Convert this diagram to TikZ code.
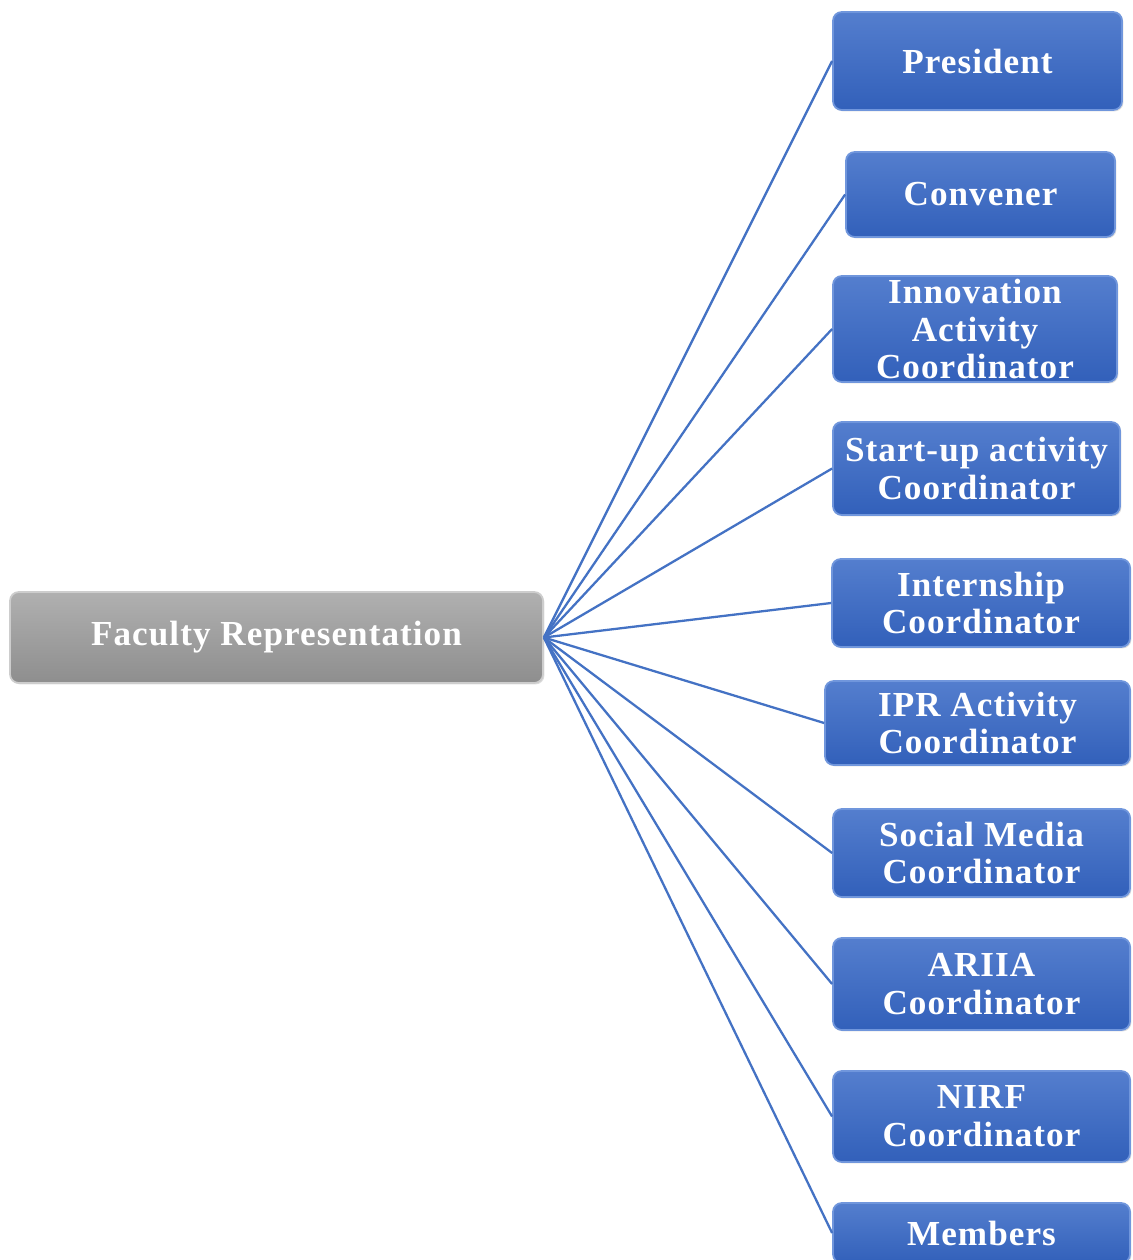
\documentclass[tikz,border=0pt]{standalone}
\usepackage{fontspec}
\setmainfont{Liberation Serif}
\newfontfamily\boxfont{Liberation Serif}[LetterSpace=3]
\usetikzlibrary{shadows}
\definecolor{linkblue}{RGB}{68,114,196}
\definecolor{btop}{RGB}{84,126,206}
\definecolor{bbot}{RGB}{50,96,186}
\definecolor{bedge}{RGB}{112,150,220}
\definecolor{gtop}{RGB}{176,176,176}
\definecolor{gbot}{RGB}{142,142,142}
\definecolor{gedge}{RGB}{205,205,205}
\tikzset{
  basebox/.style 2 args={rectangle, rounded corners=5pt, minimum width=#1*0.02cm,
    minimum height=#2*0.02cm, inner sep=0pt, align=center, text=white,
    font={\boxfont\bfseries\fontsize{20}{21.5}\selectfont},
    drop shadow={shadow xshift=0.8pt, shadow yshift=-0.8pt, opacity=0.25}},
  bluebox/.style 2 args={basebox={#1}{#2}, draw=bedge, line width=1pt,
    top color=btop, bottom color=bbot},
  greybox/.style 2 args={basebox={#1}{#2}, draw=gedge, line width=1pt,
    top color=gtop, bottom color=gbot},
  link/.style={draw=linkblue, line width=1.3pt}
}
\begin{document}
\begin{tikzpicture}[x=0.02cm,y=-0.02cm]
\clip (0,0) rectangle (1132,1260);
\fill[white] (0,0) rectangle (1132,1260);
\node[greybox={533}{91}] (fac) at (276.5,637.5) {Faculty Representation};
\node[bluebox={289}{98}] (pres) at (977.5,61) {President};
\node[bluebox={269}{85}] (conv) at (980.5,194.5) {Convener};
\node[bluebox={284}{106}] (innov) at (975,329) {Innovation\\Activity\\Coordinator};
\node[bluebox={287}{93}] (start) at (976.5,468.5) {Start-up activity\\Coordinator};
\node[bluebox={298}{88}] (intern) at (981,603) {Internship\\Coordinator};
\node[bluebox={305}{84}] (ipr) at (977.5,723) {IPR Activity\\Coordinator};
\node[bluebox={297}{88}] (social) at (981.5,853) {Social Media\\Coordinator};
\node[bluebox={297}{92}] (ariia) at (981.5,984) {ARIIA\\Coordinator};
\node[bluebox={297}{91}] (nirf) at (981.5,1116.5) {NIRF\\Coordinator};
\node[bluebox={297}{60}] (mem) at (981.5,1233) {Members};
\foreach \t in {pres,conv,innov,start,intern,ipr,social,ariia,nirf,mem}
  \draw[link] (fac.east) -- (\t.west);
\end{tikzpicture}
\end{document}
